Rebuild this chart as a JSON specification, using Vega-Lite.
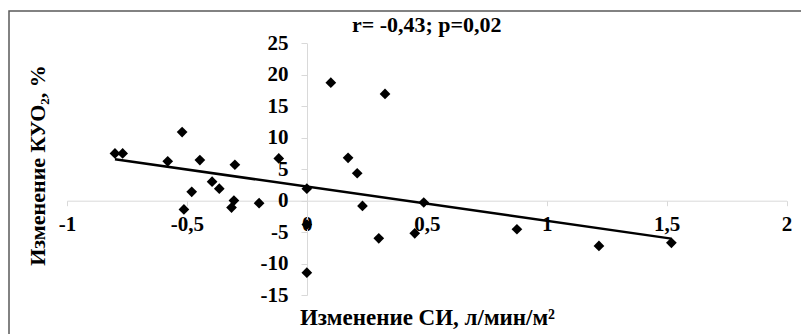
{
  "$schema": "https://vega.github.io/schema/vega-lite/v6.json",
  "width": 800,
  "height": 331,
  "autosize": {"type": "none"},
  "padding": {"left": 9, "top": 11, "right": -8, "bottom": -8},
  "background": "white",
  "config": {
    "view": {"stroke": "#595959", "strokeWidth": 1.5},
    "font": "Liberation Serif"
  },
  "datasets": {
    "points": [
      {"si": -0.8, "kuo": 7.5},
      {"si": -0.768, "kuo": 7.5},
      {"si": -0.52, "kuo": 10.9},
      {"si": -0.58, "kuo": 6.25},
      {"si": -0.446, "kuo": 6.45},
      {"si": -0.3, "kuo": 5.7},
      {"si": -0.117, "kuo": 6.7},
      {"si": 0.1, "kuo": 18.75},
      {"si": 0.326, "kuo": 16.95},
      {"si": 0.172, "kuo": 6.8},
      {"si": 0.21, "kuo": 4.35},
      {"si": -0.48, "kuo": 1.4},
      {"si": -0.395, "kuo": 3.0},
      {"si": -0.365, "kuo": 1.9},
      {"si": -0.5125, "kuo": -1.4},
      {"si": -0.304, "kuo": 0.0},
      {"si": -0.314, "kuo": -1.1},
      {"si": -0.199, "kuo": -0.4},
      {"si": 0.0, "kuo": 1.9},
      {"si": 0.232, "kuo": -0.85},
      {"si": 0.4875, "kuo": -0.3},
      {"si": 0.3, "kuo": -6.0},
      {"si": 0.45, "kuo": -5.2},
      {"si": 0.0, "kuo": -3.8},
      {"si": 0.0, "kuo": -11.45},
      {"si": 0.876, "kuo": -4.55},
      {"si": 1.218, "kuo": -7.2},
      {"si": 1.52, "kuo": -6.7}
    ],
    "trend": [
      {"si": -0.8, "kuo": 6.57},
      {"si": 1.52, "kuo": -6.04}
    ],
    "stat": [
      {"si": 0.5, "kuo": 26.85, "label": "r= -0,43; p=0,02"}
    ]
  },
  "encoding": {
    "x": {
      "field": "si",
      "type": "quantitative",
      "scale": {"domain": [-1, 2], "range": [58, 777.5], "nice": false, "zero": false},
      "axis": {
        "offset": -141.3,
        "values": [-1, -0.5, 0, 0.5, 1, 1.5, 2],
        "labelExpr": "(datum.value < 0 ? '-' : '') + replace(toString(abs(datum.value)), '.', ',')",
        "grid": false,
        "domainColor": "#d9d9d9",
        "tickColor": "#d9d9d9",
        "tickSize": 5,
        "labelPadding": 8,
        "labelFont": "Liberation Serif",
        "labelFontWeight": "bold",
        "labelFontSize": 21,
        "labelColor": "black",
        "labelFlush": false,
        "labelOverlap": false,
        "labelBound": false,
        "title": "Изменение СИ, л/мин/м²",
        "titleFont": "Liberation Serif",
        "titleFontSize": 23,
        "titleFontWeight": "bold",
        "titleColor": "black",
        "titleX": 418,
        "titleY": 124,
        "titleAlign": "center",
        "titleBaseline": "alphabetic"
      }
    },
    "y": {
      "field": "kuo",
      "type": "quantitative",
      "scale": {"domain": [-15, 25], "range": [284, 32.3], "nice": false, "zero": false},
      "axis": {
        "offset": -298,
        "values": [-15, -10, -5, 0, 5, 10, 15, 20, 25],
        "labelExpr": "(datum.value < 0 ? '-' : '') + toString(abs(datum.value))",
        "grid": false,
        "domainColor": "#d9d9d9",
        "tickColor": "#d9d9d9",
        "tickSize": 6,
        "labelPadding": 13,
        "labelFont": "Liberation Serif",
        "labelFontWeight": "bold",
        "labelFontSize": 21,
        "labelColor": "black",
        "labelOverlap": false,
        "labelBound": false,
        "title": "Изменение КУО₂, %",
        "titleFont": "Liberation Serif",
        "titleFontSize": 22,
        "titleFontWeight": "bold",
        "titleColor": "black",
        "titleAngle": -90,
        "titleX": -263,
        "titleY": 154,
        "titleAlign": "center",
        "titleBaseline": "alphabetic"
      }
    }
  },
  "layer": [
    {
      "data": {"name": "points"},
      "mark": {"type": "point", "shape": "diamond", "filled": true, "color": "black", "opacity": 1, "size": 115}
    },
    {
      "data": {"name": "trend"},
      "mark": {"type": "line", "color": "black", "strokeWidth": 2.5}
    },
    {
      "data": {"name": "stat"},
      "mark": {"type": "text", "font": "Liberation Serif", "fontSize": 22, "fontWeight": "bold", "color": "black", "align": "center", "baseline": "alphabetic"},
      "encoding": {"text": {"field": "label", "type": "nominal"}}
    }
  ]
}
